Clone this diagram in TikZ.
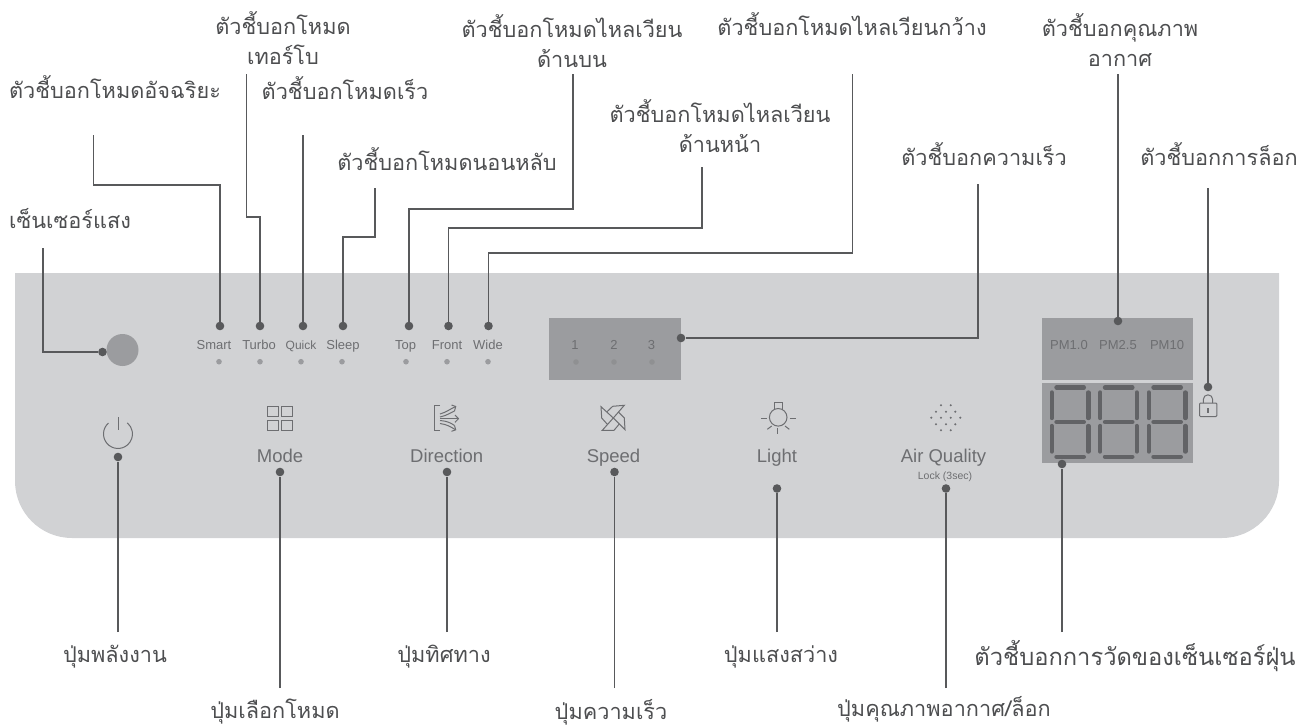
\documentclass[tikz,border=0pt]{standalone}
\usepackage{fontspec}
\setmainfont{Liberation Sans}
\newfontfamily\thaifont[Script=Thai]{Loma}
\definecolor{panelgray}{HTML}{D1D2D4}
\definecolor{boxgray}{HTML}{9B9C9F}
\definecolor{leadgray}{HTML}{58595B}
\definecolor{inkgray}{HTML}{6D6E71}
\definecolor{seggray}{HTML}{626366}
\definecolor{labelgray}{HTML}{4D4E50}
\tikzset{
	pin/.style={shape=circle,fill=leadgray,inner sep=0pt,minimum size=8.6pt},
	led/.style={shape=circle,fill=boxgray,inner sep=0pt,minimum size=5.6pt},
	lead/.style={draw=leadgray,line width=1.2pt},
	icon/.style={draw=inkgray,line width=1pt},
	seg/.style={draw=seggray,line width=4.4pt,line cap=round},
	thai/.style={text=labelgray,font=\thaifont\fontsize{21.7}{30}\selectfont,align=center,inner sep=0pt},
	small/.style={text=inkgray,font=\fontsize{13}{15}\selectfont,inner sep=0pt,anchor=base},
	big/.style={text=inkgray,font=\fontsize{18.5}{20}\selectfont,inner sep=0pt,anchor=base},
}
\begin{document}
\begin{tikzpicture}[x=1pt,y=-1pt]
	\useasboundingbox (0,0) rectangle (1310,728);

	\fill[panelgray] (15,273) -- (1279,273) -- (1279,481) arc[start angle=0,end angle=90,radius=57] -- (72,538) arc[start angle=90,end angle=180,radius=57] -- cycle;
	\fill[boxgray] (549,318) rectangle (681,380);
	\fill[boxgray] (1042,318) rectangle (1193,380);
	\fill[boxgray] (1042,383) rectangle (1193,463);

	\node[shape=circle,fill=boxgray,inner sep=0pt,minimum size=32pt] (sensor) at (122.5,350) {};

	% panel texts
	\node[small] (tsmart) at (214,349.5) {Smart};
	\node[small] (tturbo) at (259,349.5) {Turbo};
	\node[small,font=\fontsize{12}{14}\selectfont] (tquick) at (301,349.5) {Quick};
	\node[small] (tsleep) at (343,349.5) {Sleep};
	\node[small] (ttop) at (405.5,349.5) {Top};
	\node[small] (tfront) at (447,349.5) {Front};
	\node[small] (twide) at (488,349.5) {Wide};
	\node[small] (tone) at (575,349.5) {1};
	\node[small] (ttwo) at (614,349.5) {2};
	\node[small] (tthree) at (651.5,349.5) {3};
	\node[small] (tpmone) at (1069,349.5) {PM1.0};
	\node[small] (tpmtwo) at (1118,349.5) {PM2.5};
	\node[small] (tpmten) at (1167,349.5) {PM10};
	\node[big] (tmode) at (280,462.5) {Mode};
	\node[big] (tdirection) at (446.7,462.5) {Direction};
	\node[big] (tspeed) at (613.5,462.5) {Speed};
	\node[big] (tlight) at (777,462.5) {Light};
	\node[big] (tair) at (943.5,462.5) {Air Quality};
	\node[small,font=\fontsize{10.5}{12}\selectfont] (tlock) at (945,479) {Lock (3sec)};

	% indicator leds
	\foreach \name/\x in {smart/219,turbo/260,quick/301,sleep/342,top/406,front/447,wide/488}
		\node[led] (led\name) at (\x,361.7) {};
	\foreach \name/\x in {one/576,two/614,three/652}
		\node[led,fill=boxgray!92!black] (led\name) at (\x,362) {};

	% seven segment digits
	\foreach \dx in {0,48.5,97} {
		\path[seg] (1056.5+\dx,387.5) edge (1083.8+\dx,387.5);
		\path[seg] (1056.5+\dx,422) edge (1083.8+\dx,422);
		\path[seg] (1056.5+\dx,456.7) edge (1083.8+\dx,456.7);
		\path[seg] (1051.7+\dx,392.5) edge (1051.7+\dx,418);
		\path[seg] (1088.3+\dx,392.5) edge (1088.3+\dx,418);
		\path[seg] (1051.7+\dx,426) edge (1051.7+\dx,451.5);
		\path[seg] (1088.3+\dx,426) edge (1088.3+\dx,451.5);
	}

	% icons
	\draw[icon] (118,417) -- (118,430);
	\draw[icon] (108.5,423) arc[start angle=-130.9,end angle=-410,radius=14.5];
	\foreach \x in {267.7,281.7}
		\foreach \y in {406,420}
			\draw[icon] (\x,\y) rectangle (\x+10.3,\y+10);
	\draw[icon] (440,405.5) -- (434.4,405.5) -- (434.4,430.2) -- (440,430.2);
	\draw[icon] (440,414) .. controls (447,412) and (450,409) .. (455.7,406.5);
	\draw[icon] (440,417) .. controls (447,415.5) and (451,412.5) .. (454.5,411);
	\draw[icon] (451.5,405) -- (455.7,406.5) -- (454.5,411);
	\draw[icon] (440,418.7) -- (458,418.7);
	\draw[icon] (455,415) -- (458.5,418.7) -- (455,422.3);
	\draw[icon] (440,420.5) .. controls (447,421) and (451,423) .. (454.5,425.5);
	\draw[icon] (440,423.5) .. controls (447,424.5) and (450,426.5) .. (455.7,429.8);
	\draw[icon] (451.5,431.3) -- (455.7,429.8) -- (454.5,425.5);
	\draw[icon] (613.3,418) -- (601,406.7) -- (601.7,418) -- (607.7,424.7);
	\draw[icon] (613.3,418) -- (602.3,430.3) -- (614,430.3) -- (619.3,424);
	\draw[icon] (613.3,418) -- (625,429.7) -- (624.3,418) -- (618.3,412);
	\draw[icon] (613.3,418) -- (624.3,405.3) -- (612.7,406.3) -- (606.7,412);
	\draw[icon] (774.2,409.6) -- (774.2,402.8) -- (782.2,402.8) -- (782.2,409.6);
	\draw[icon] (778.2,417.3) circle[radius=8.8];
	\draw[icon] (761,418.7) -- (767,418.7);
	\draw[icon] (789.5,418.7) -- (795.5,418.7);
	\draw[icon] (777.8,427.8) -- (777.8,433.8);
	\draw[icon] (767.3,429.3) -- (771.7,426);
	\draw[icon] (789.3,429.3) -- (785,426);
	\foreach \x/\y in {941/405.3,950.7/405.3,936/411.7,946/411.7,955.3/411.7,931.3/417.7,941/417.7,950.7/417.7,960.3/417.7,936/424.3,946/424.3,955.3/424.3,941/430.3,950.7/430.3}
		\fill[inkgray] (\x,\y) circle[radius=1.15];
	\draw[icon] (1203.3,403) -- (1203.3,399.5) arc[start angle=180,end angle=360,radius=4.7] -- (1212.7,403);
	\draw[icon,rounded corners=1pt] (1199.5,403) rectangle (1216.8,416.5);
	\fill[inkgray] (1206.5,407.5) rectangle (1209,412.5);

	% pins
	\node[pin] (psensor) at (102.5,352) {};
	\node[pin] (psmart) at (220,326) {};
	\node[pin] (pturbo) at (260,326) {};
	\node[pin] (pquick) at (303,326) {};
	\node[pin] (psleep) at (343,326) {};
	\node[pin] (ptop) at (409,326) {};
	\node[pin] (pfront) at (448.5,326) {};
	\node[pin] (pwide) at (488.5,326) {};
	\node[pin] (pspeedled) at (681,338) {};
	\node[pin] (pair) at (1118,321) {};
	\node[pin] (plocked) at (1208,387) {};
	\node[pin] (pdust) at (1062,464) {};
	\node[pin] (ppower) at (118,457) {};
	\node[pin] (pmode) at (280,472) {};
	\node[pin] (pdirection) at (447,472) {};
	\node[pin] (pspeed) at (614.5,472) {};
	\node[pin] (plight) at (777,488.5) {};
	\node[pin] (plockbtn) at (946,488.5) {};

	% labels
	\node[thai] (lsensor) at (70,219) {เซ็นเซอร์แสง};
	\node[thai] (lsmart) at (115,87) {ตัวชี้บอกโหมดอัจฉริยะ};
	\node[thai] (lturbo) at (283,38) {ตัวชี้บอกโหมด\\เทอร์โบ};
	\node[thai] (lquick) at (345,88) {ตัวชี้บอกโหมดเร็ว};
	\node[thai] (lsleep) at (447,159) {ตัวชี้บอกโหมดนอนหลับ};
	\node[thai] (ltop) at (572,41) {ตัวชี้บอกโหมดไหลเวียน\\ด้านบน};
	\node[thai] (lfront) at (720,126) {ตัวชี้บอกโหมดไหลเวียน\\ด้านหน้า};
	\node[thai] (lwide) at (852,24) {ตัวชี้บอกโหมดไหลเวียนกว้าง};
	\node[thai] (lair) at (1120,40) {ตัวชี้บอกคุณภาพ\\อากาศ};
	\node[thai] (lspeedled) at (984,154) {ตัวชี้บอกความเร็ว};
	\node[thai] (llocked) at (1219,154) {ตัวชี้บอกการล็อก};
	\node[thai] (lpower) at (115,657) {ปุ่มพลังงาน};
	\node[thai] (ldirection) at (444,657) {ปุ่มทิศทาง};
	\node[thai] (llight) at (781,657) {ปุ่มแสงสว่าง};
	\node[thai,font=\thaifont\fontsize{23.7}{30}\selectfont] (ldust) at (1135,656) {ตัวชี้บอกการวัดของเซ็นเซอร์ฝุ่น};
	\node[thai] (lmode) at (275,712) {ปุ่มเลือกโหมด};
	\node[thai] (lspeed) at (611,712) {ปุ่มความเร็ว};
	\node[thai] (llockbtn) at (944,709) {ปุ่มคุณภาพอากาศ/ล็อก};

	% free ends of the leaders
	\coordinate (esensor) at (43,248);
	\coordinate (esmart) at (93.5,135);
	\coordinate (eturbo) at (246.5,74);
	\coordinate (equick) at (303,135);
	\coordinate (esleep) at (375,188);
	\coordinate (etop) at (573,74);
	\coordinate (efront) at (702,167);
	\coordinate (ewide) at (852.5,74);
	\coordinate (eair) at (1118,74);
	\coordinate (espeedled) at (978,184);
	\coordinate (elocked) at (1208,188);
	\coordinate (epower) at (118,632);
	\coordinate (edirection) at (447,632);
	\coordinate (elight) at (777,632);
	\coordinate (edust) at (1062,632);
	\coordinate (emode) at (280,688);
	\coordinate (espeed) at (614.5,688);
	\coordinate (elockbtn) at (946,688);

	\draw[lead] (esensor) |- (psensor);
	\draw[lead] (esmart) |- (220,185) -- (psmart);
	\draw[lead] (eturbo) |- (260,217) -- (pturbo);
	\draw[lead] (esleep) |- (343,237) -- (psleep);
	\draw[lead] (etop) |- (409,209) -- (ptop);
	\draw[lead] (efront) |- (448.5,228) -- (pfront);
	\draw[lead] (ewide) |- (488.5,253) -- (pwide);
	\draw[lead] (espeedled) |- (pspeedled);
	\path[lead] (equick) edge (pquick);
	\path[lead] (eair) edge (pair);
	\path[lead] (elocked) edge (plocked);
	\path[lead] (edust) edge (pdust);
	\path[lead] (epower) edge (ppower);
	\path[lead] (emode) edge (pmode);
	\path[lead] (edirection) edge (pdirection);
	\path[lead] (espeed) edge (pspeed);
	\path[lead] (elight) edge (plight);
	\path[lead] (elockbtn) edge (plockbtn);

\end{tikzpicture}
\end{document}
